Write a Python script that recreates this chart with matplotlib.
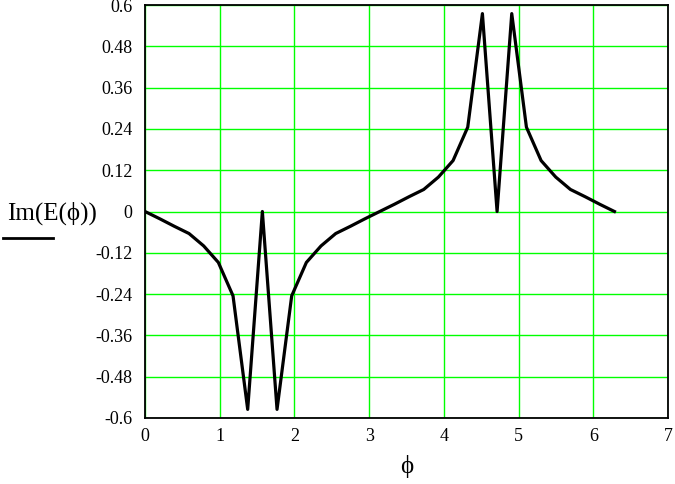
import numpy as np
import matplotlib.pyplot as plt
from matplotlib.lines import Line2D

# sample points phi = k*pi/16, k = 0..32
phi = np.arange(33) * np.pi / 16
im_e = [0.0, -0.021, -0.043, -0.064, -0.1, -0.148, -0.245, -0.575,
        0.0, -0.575, -0.245, -0.148, -0.1, -0.064, -0.043, -0.021,
        0.0, 0.021, 0.043, 0.064, 0.1, 0.148, 0.245, 0.575,
        0.0, 0.575, 0.245, 0.148, 0.1, 0.064, 0.043, 0.021, 0.0]

xticks = [0, 1, 2, 3, 4, 5, 6, 7]
yticks = [-0.6, -0.48, -0.36, -0.24, -0.12, 0, 0.12, 0.24, 0.36, 0.48, 0.6]
ylabels = ["-0.6", "-0.48", "-0.36", "-0.24", "-0.12", "0",
           "0.12", "0.24", "0.36", "0.48", "0.6"]

plt.rcParams['font.family'] = ['Liberation Serif', 'DejaVu Serif']

W, H = 675, 484
fig = plt.figure(figsize=(W / 100, H / 100), dpi=100)
ax = fig.add_axes([145 / W, 1 - 418 / H, (668 - 145) / W, (418 - 5) / H])

ax.plot(phi, im_e, color='black', linewidth=2.3, zorder=3)

ax.set_xlim(0, 7)
ax.set_ylim(-0.6, 0.6)
ax.set_xticks(xticks)
ax.set_xticklabels([str(t) for t in xticks])
ax.set_yticks(yticks)
ax.set_yticklabels(ylabels)
ax.tick_params(length=0, labelsize=13)
ax.tick_params(axis='y', pad=9)
ax.tick_params(axis='x', pad=7)
ax.grid(True, color='#00ff00', linewidth=1.0)
ax.set_axisbelow(True)
for s in ax.spines.values():
    s.set_color('black')
    s.set_linewidth(1.3)

fig.text(407 / W, 1 - 467 / H, "\u03d5", fontsize=18, ha='center', va='center')
fig.text(52 / W, 1 - 213 / H, "Im(E(\u03d5))", fontsize=18, ha='center', va='center')
fig.add_artist(Line2D([3 / W, 53 / W], [1 - 238 / H, 1 - 238 / H],
                      color='black', linewidth=2.0, transform=fig.transFigure))

fig.savefig("out.png", dpi=100)
